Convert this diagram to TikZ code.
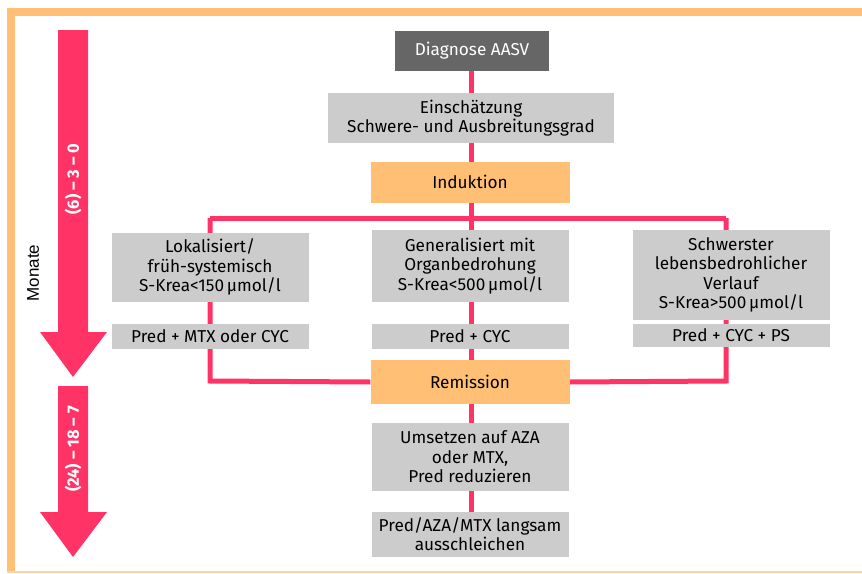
\documentclass[tikz,border=0pt]{standalone}
\usepackage{fontspec}
\setmainfont{Fira Sans}
\newfontfamily\monatefont{Liberation Sans}
\usetikzlibrary{backgrounds,positioning}
\definecolor{flowpink}{RGB}{255,51,102}
\definecolor{boxgray}{RGB}{204,204,204}
\definecolor{darkgray}{RGB}{102,102,102}
\definecolor{phaseorange}{RGB}{255,192,118}
\newcommand{\boxfont}{\fontsize{17.2}{19.5}\selectfont}
\tikzset{
  infobox/.style={fill=boxgray,align=center,inner sep=0pt,font=\boxfont,
    minimum width=197pt},
  topbox/.style={fill=darkgray,text=white,align=center,inner sep=0pt,
    font=\boxfont,minimum width=154pt,minimum height=40pt},
  phasebox/.style={fill=phaseorange,align=center,inner sep=0pt,font=\boxfont,
    minimum width=199pt},
  flow/.style={draw=flowpink,line width=5pt},
  timearrow/.style={fill=flowpink},
  timelab/.style={text=white,font=\fontsize{16.5}{19}\selectfont\bfseries,rotate=90}
}
\begin{document}
\begin{tikzpicture}[x=1pt,y=-1pt]
  \useasboundingbox (0,0) rectangle (862,573);
  % frame
  \fill[phaseorange] (7,8) rectangle (862,16);
  \fill[phaseorange] (7,8) rectangle (15,573);
  \fill[phaseorange!70] (7,571) rectangle (862,573);

  % time axis
  \fill[timearrow] (58,30) -- (88,30) -- (88,332) -- (107,332) -- (73,377)
    -- (40,332) -- (58,332) -- cycle;
  \fill[timearrow] (58,386) -- (88,386) -- (88,512) -- (107,512) -- (73,557)
    -- (40,512) -- (58,512) -- cycle;
  \node[timelab] (phase1) at (73,179) {(6) – 3 – 0};
  \node[timelab] (phase2) at (73,449) {(24) – 18 – 7};
  \node[rotate=90,font=\monatefont\fontsize{17}{19}\selectfont] (monate) at (33,273) {Monate};

  % boxes
  \node[topbox] (diag) at (472,51) {Diagnose AASV};
  \node[infobox,minimum width=286pt,minimum height=50pt] (einsch) at (471,118)
    {Einschätzung\\Schwere- und Ausbreitungsgrad};
  \node[phasebox,minimum height=41pt] (ind) at (470,182) {Induktion};
  \node[infobox,minimum height=69pt] (lok) at (210,267) {Lokalisiert/\\früh-systemisch\\S-Krea<150\,µmol/l};
  \node[infobox,minimum height=72pt] (gen) at (470,266) {Generalisiert mit\\Organbedrohung\\S-Krea<500\,µmol/l};
  \node[infobox,minimum height=90pt] (schw) at (731,275) {Schwerster\\lebensbedrohlicher\\Verlauf\\S-Krea>500\,µmol/l};
  \node[infobox,minimum height=25pt] (predmtx) at (210,336) {Pred + MTX oder CYC};
  \node[infobox,minimum height=25pt] (predcyc) at (470,336) {Pred + CYC};
  \node[infobox,minimum height=23pt] (predps) at (731,335) {Pred + CYC + PS};
  \node[phasebox,minimum height=44pt] (rem) at (470,382) {Remission};
  \node[infobox,minimum height=68pt] (ums) at (470,457) {Umsetzen auf AZA\\oder MTX,\\Pred reduzieren};
  \node[infobox,minimum height=45pt] (aus) at (470,534) {Pred/AZA/MTX langsam\\ausschleichen};

  \coordinate (jl) at (210,218);
  \coordinate (jm) at (471,218);
  \coordinate (jr) at (726,218);
  \coordinate (ml) at (210,381);
  \coordinate (mr) at (726,381);

  % connectors
  \begin{scope}[on background layer]
    \draw[flow] (471,51) -- (471,118) -- (471,534);
    \draw[flow] (jl) -- (jr);
    \draw[flow] (jl) -- (ml) -- (rem.west);
    \draw[flow] (jr) -- (mr) -- (rem.east);
  \end{scope}
\end{tikzpicture}
\end{document}
